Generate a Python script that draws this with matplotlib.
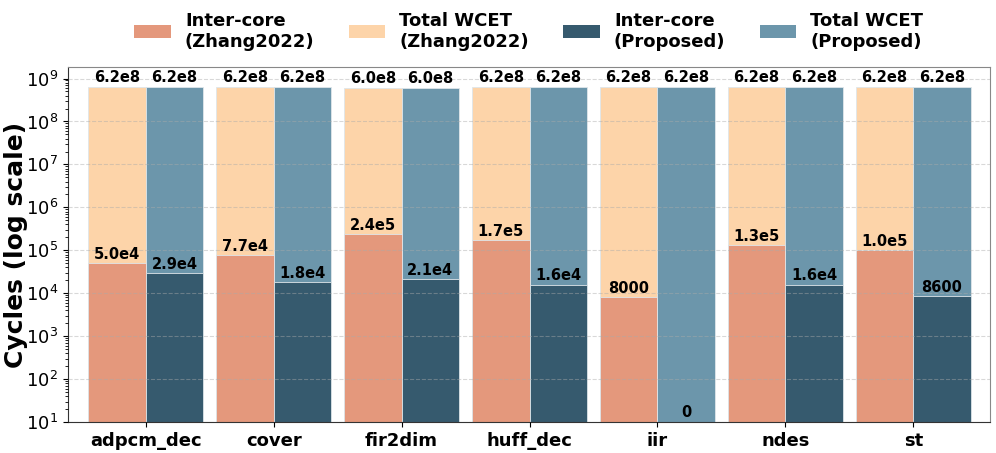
import numpy as np
import matplotlib
matplotlib.use('Agg')
import matplotlib.pyplot as plt
from matplotlib.patches import Patch

benchmarks = ['adpcm_dec', 'cover', 'fir2dim', 'huff_dec', 'iir', 'ndes', 'st']
total_zhang = [6.2e8, 6.2e8, 6.0e8, 6.2e8, 6.2e8, 6.2e8, 6.2e8]
inter_zhang = [5.0e4, 7.7e4, 2.4e5, 1.7e5, 8000, 1.3e5, 1.0e5]
total_prop = [6.2e8, 6.2e8, 6.0e8, 6.2e8, 6.2e8, 6.2e8, 6.2e8]
inter_prop = [2.9e4, 1.8e4, 2.1e4, 1.6e4, 0, 1.6e4, 8600]
label_inter_zhang = ['5.0e4', '7.7e4', '2.4e5', '1.7e5', '8000', '1.3e5', '1.0e5']
label_inter_prop = ['2.9e4', '1.8e4', '2.1e4', '1.6e4', '0', '1.6e4', '8600']
label_total = ['6.2e8', '6.2e8', '6.0e8', '6.2e8', '6.2e8', '6.2e8', '6.2e8']

c_inter_z = '#E4987C'
c_total_z = '#FDD4A9'
c_inter_p = '#365A6E'
c_total_p = '#6C96AB'

plt.rcParams['font.family'] = ['DejaVu Sans']

fig = plt.figure(figsize=(9.96, 4.53), dpi=100)
ax = fig.add_axes([0.068, 0.068, 0.926, 0.784])

x = np.arange(len(benchmarks))
w = 0.45
edge = {'edgecolor': '#dfe6ea', 'linewidth': 0.6}

ax.bar(x - w/2, total_zhang, w, color=c_total_z, zorder=1, **edge)
ax.bar(x - w/2, inter_zhang, w, color=c_inter_z, zorder=1.5, **edge)
ax.bar(x + w/2, total_prop, w, color=c_total_p, zorder=1, **edge)
inter_prop_plot = [v if v > 0 else np.nan for v in inter_prop]
ax.bar(x + w/2, inter_prop_plot, w, color=c_inter_p, zorder=1.5, **edge)

ax.set_yscale('log')
ax.set_ylim(10, 1.85e9)
ax.set_xlim(-0.61, 6.6)

lab = {'ha': 'center', 'va': 'bottom', 'fontsize': 10.5, 'fontweight': 'bold', 'zorder': 5}
for i in range(len(benchmarks)):
    ax.text(x[i] - w/2, total_zhang[i] * 1.12, label_total[i], **lab)
    ax.text(x[i] + w/2, total_prop[i] * 1.12, label_total[i], **lab)
    ax.text(x[i] - w/2, inter_zhang[i] * 1.08, label_inter_zhang[i], **lab)
    yp = inter_prop[i] * 1.08 if inter_prop[i] > 0 else 11.5
    ax.text(x[i] + w/2, yp, label_inter_prop[i], **lab)

ax.set_xticks(x)
ax.set_xticklabels(benchmarks, fontsize=13, fontweight='bold')
ax.tick_params(axis='y', labelsize=13)
ax.set_ylabel('Cycles (log scale)', fontsize=18, fontweight='bold')
ax.yaxis.set_label_coords(-0.043, 0.5)
ax.set_axisbelow(False)
ax.yaxis.grid(True, which='major', linestyle='--', color='#aaaaaa', alpha=0.45, linewidth=0.8)
for s in ['top', 'right']:
    ax.spines[s].set_color('#888888')
ax.spines['left'].set_color('#333333')
ax.spines['bottom'].set_color('#333333')

handles = [Patch(facecolor=c_inter_z), Patch(facecolor=c_total_z),
           Patch(facecolor=c_inter_p), Patch(facecolor=c_total_p)]
names = ['Inter-core\n(Zhang2022)', 'Total WCET\n(Zhang2022)',
         'Inter-core\n(Proposed)', 'Total WCET\n(Proposed)']
fig.legend(handles, names, loc='upper center', bbox_to_anchor=(0.531, 1.01), ncol=4,
           frameon=False, prop={'size': 13, 'weight': 'bold'},
           handlelength=2.0, handleheight=0.7, columnspacing=1.9, handletextpad=0.8)

fig.savefig('out.png', dpi=100)
